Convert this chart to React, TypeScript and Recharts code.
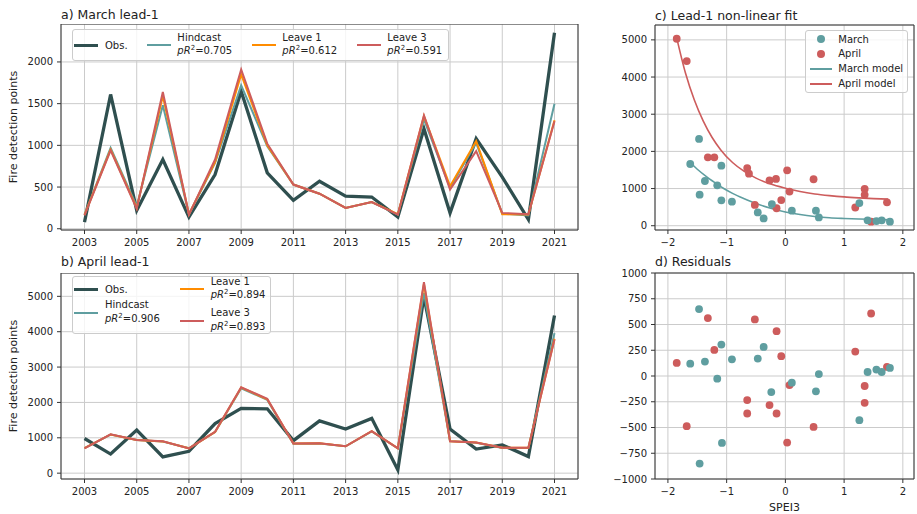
import React from "react";
import {
  LineChart, Line, ComposedChart, Scatter, XAxis, YAxis, CartesianGrid, ReferenceLine, Label,
} from "recharts";

const FONT = '"DejaVu Sans", sans-serif';
const OBS = "#2F4F4F";
const TEAL = "#5F9EA0";
const ORANGE = "#FF8C00";
const RED = "#CD5C5C";
const GRID = "#cbcbcb";
const SPINE = "#333333";
const TEXT = "#222222";

// ---- time series (panels a, b) ----
const years = [2003, 2004, 2005, 2006, 2007, 2008, 2009, 2010, 2011, 2012, 2013, 2014, 2015, 2016, 2017, 2018, 2019, 2020, 2021];
const yearTicks = [2003, 2005, 2007, 2009, 2011, 2013, 2015, 2017, 2019, 2021];

const marchObs = [80, 1610, 220, 830, 140, 650, 1650, 670, 340, 570, 390, 380, 140, 1200, 190, 1080, 620, 110, 2350];
const marchHindcast = [170, 970, 270, 1480, 170, 790, 1720, 990, 530, 420, 250, 320, 170, 1310, 490, 1030, 180, 160, 1500];
const marchLeave1 = [165, 950, 250, 1590, 175, 800, 1850, 1000, 530, 420, 250, 320, 175, 1350, 510, 1050, 175, 170, 1300];
const marchLeave3 = [160, 940, 240, 1640, 170, 830, 1910, 1020, 530, 420, 250, 320, 170, 1360, 470, 930, 190, 175, 1290];

const aprilObs = [980, 540, 1220, 460, 620, 1400, 1830, 1820, 920, 1480, 1250, 1550, 90, 5000, 1250, 680, 800, 470, 4460];
const aprilHindcast = [710, 1090, 935, 895, 705, 1160, 2400, 2070, 835, 840, 760, 1180, 705, 5100, 905, 860, 715, 715, 3960];
const aprilLeave1 = [705, 1095, 938, 898, 702, 1165, 2420, 2090, 838, 843, 760, 1185, 702, 5350, 902, 865, 718, 718, 3800];
const aprilLeave3 = [700, 1100, 940, 900, 700, 1170, 2430, 2100, 840, 845, 760, 1190, 700, 5400, 900, 870, 720, 720, 3780];

const marchTicks = [0, 500, 1000, 1500, 2000];
const aprilTicks = [0, 1000, 2000, 3000, 4000, 5000];

// ---- SPEI3 scatter (panels c, d) ----
const marchSpei = [-1.47, -1.62, -1.37, -1.46, -1.16, -1.09, -1.09, -0.91, -0.47, -0.37, -0.23, 0.11, 0.52, 0.57, 1.26, 1.40, 1.55, 1.64, 1.78];
const marchPoints = [2334, 1660, 1203, 835, 1086, 1616, 682, 646, 359, 197, 583, 404, 404, 224, 610, 144, 126, 144, 108];
const aprilSpei = [-1.85, -1.68, -1.32, -1.21, -0.65, -0.62, -0.27, -0.16, 0.03, 0.07, -0.07, -0.52, -0.15, 0.48, 1.19, 1.35, 1.35, 1.46, 1.73];
const aprilPoints = [5030, 4430, 1840, 1840, 1550, 1400, 1220, 1260, 1490, 920, 690, 560, 470, 1250, 490, 990, 830, 110, 630];

const marchModelX = [-1.62, -1.5, -1.35, -1.2, -1.05, -0.9, -0.7, -0.5, -0.25, 0, 0.25, 0.5, 0.75, 1.0, 1.25, 1.5, 1.78];
const marchModelY = [1700, 1520, 1330, 1160, 1000, 870, 725, 595, 470, 370, 300, 250, 215, 195, 180, 170, 160];
const aprilModelX = [-1.85, -1.7, -1.55, -1.4, -1.25, -1.1, -0.9, -0.7, -0.5, -0.25, 0, 0.25, 0.5, 0.75, 1.0, 1.25, 1.5, 1.75];
const aprilModelY = [5050, 4100, 3380, 2820, 2380, 2040, 1700, 1460, 1280, 1120, 1010, 920, 855, 810, 775, 750, 730, 715];

const marchResidSpei = [-1.47, -1.62, -1.37, -1.46, -1.16, -1.09, -1.08, -0.91, -0.47, -0.37, -0.24, 0.11, 0.52, 0.57, 1.26, 1.40, 1.55, 1.64, 1.78];
const marchResid = [650, 120, 140, -850, -26, 305, -650, 162, 169, 282, -156, -65, -149, 19, -429, 39, 62, 39, 78];
const aprilResidSpei = [-1.85, -1.68, -1.32, -1.21, -0.65, -0.65, -0.52, -0.27, -0.15, -0.15, -0.07, 0.07, 0.03, 0.48, 1.19, 1.35, 1.35, 1.46, 1.73];
const aprilResid = [127, -487, 562, 253, -234, -364, 549, -282, 435, -364, 192, -88, -646, -494, 237, -97, -260, 607, 88];

const speiTicks = [-2, -1, 0, 1, 2];
const fitTicks = [0, 1000, 2000, 3000, 4000, 5000];
const residTicks = [-1000, -750, -500, -250, 0, 250, 500, 750, 1000];

const marchLegend = [
  { name: "Obs.", color: OBS, thick: 3.5, score: "" },
  { name: "Hindcast", color: TEAL, thick: 2, score: "0.705" },
  { name: "Leave 1", color: ORANGE, thick: 2, score: "0.612" },
  { name: "Leave 3", color: RED, thick: 2, score: "0.591" },
];
const aprilLegend = [
  { name: "Obs.", color: OBS, thick: 3.5, score: "" },
  { name: "Hindcast", color: TEAL, thick: 2, score: "0.906" },
  { name: "Leave 1", color: ORANGE, thick: 2, score: "0.894" },
  { name: "Leave 3", color: RED, thick: 2, score: "0.893" },
];
const fitLegend = [
  { name: "March", color: TEAL, kind: "dot" },
  { name: "April", color: RED, kind: "dot" },
  { name: "March model", color: TEAL, kind: "line" },
  { name: "April model", color: RED, kind: "line" },
];

const X_DOMAIN: [number, number] = [2002.1, 2021.9];
const MARCH_Y: [number, number] = [-15, 2455];
const APRIL_Y: [number, number] = [-165, 5660];
const SPEI_X: [number, number] = [-2.22, 2.19];
const FIT_Y: [number, number] = [-115, 5400];
const RESID_Y: [number, number] = [-1000, 1000];

const toRows = (obs: number[], h: number[], l1: number[], l3: number[]) =>
  years.map((year, i) => ({ year, obs: obs[i], hindcast: h[i], leave1: l1[i], leave3: l3[i] }));
const toXY = (xs: number[], ys: number[]) => xs.map((x, i) => ({ x, y: ys[i] }));

const marchRows = toRows(marchObs, marchHindcast, marchLeave1, marchLeave3);
const aprilRows = toRows(aprilObs, aprilHindcast, aprilLeave1, aprilLeave3);

const tickStyle = { fill: TEXT, fontSize: 10, fontFamily: FONT };
const minus = (v: number) => String(v).replace("-", "\u2212");

const YLabel = (props: any) => {
  const vb = props.viewBox || {};
  const cx = (vb.x || 0) + 13.5;
  const cy = (vb.y || 0) + (vb.height || 0) / 2;
  return (
    <text x={cx} y={cy} transform={`rotate(-90 ${cx} ${cy})`} textAnchor="middle" dominantBaseline="central"
      fill={TEXT} fontSize={11} fontFamily={FONT}>
      {props.value}
    </text>
  );
};

const XLabel = (props: any) => {
  const vb = props.viewBox || {};
  return (
    <text x={(vb.x || 0) + (vb.width || 0) / 2} y={(vb.y || 0) + 28} textAnchor="middle" dominantBaseline="central"
      fill={TEXT} fontSize={11} fontFamily={FONT}>
      {props.value}
    </text>
  );
};

const Score = ({ value }: { value: string }) => (
  <div>
    <i>pR</i>
    <span style={{ fontSize: 7, position: "relative", top: -4 }}>2</span>=
    {value}
  </div>
);

const Swatch = ({ color, thick }: { color: string; thick: number }) => (
  <div style={{ width: 24, height: thick, background: color, flex: "none" }} />
);

const LegendEntry = ({ e, width }: { e: any; width?: number }) => (
  <div style={{ display: "flex", alignItems: "center", width, flex: "none" }}>
    <Swatch color={e.color} thick={e.thick} />
    <div style={{ marginLeft: 6.7 }}>
      <div>{e.name}</div>
      {e.score ? <Score value={e.score} /> : null}
    </div>
  </div>
);

const boxStyle: React.CSSProperties = {
  position: "absolute",
  border: "1px solid #cccccc",
  borderRadius: 3,
  background: "rgba(255,255,255,0.8)",
  boxSizing: "border-box",
  fontFamily: FONT,
  fontSize: 10,
  color: TEXT,
  lineHeight: "13.6px",
  whiteSpace: "nowrap",
};

const titleStyle: React.CSSProperties = {
  position: "absolute",
  fontFamily: FONT,
  fontSize: 12.5,
  lineHeight: "15px",
  color: TEXT,
  whiteSpace: "nowrap",
};

// the chart div starts at the top spine; height = plot height + x-axis band
function SeriesPanel({ rows, yDomain, yTicks }: { rows: any[]; yDomain: [number, number]; yTicks: number[] }) {
  return (
    <LineChart width={585} height={227} data={rows} margin={{ top: 0, right: 7, bottom: 0, left: 0 }}>
      <CartesianGrid stroke={GRID} strokeWidth={1} />
      <XAxis dataKey="year" type="number" domain={X_DOMAIN} ticks={yearTicks} interval={0} allowDataOverflow
        height={21} tick={tickStyle} tickSize={4} tickMargin={5}
        axisLine={{ stroke: SPINE }} tickLine={{ stroke: SPINE }} />
      <YAxis type="number" domain={yDomain} ticks={yTicks} interval={0} allowDataOverflow width={61}
        tick={tickStyle} tickSize={4} tickMargin={4}
        axisLine={{ stroke: SPINE }} tickLine={{ stroke: SPINE }}>
        <Label value="Fire detection points" content={YLabel} />
      </YAxis>
      <ReferenceLine y={yDomain[1]} stroke={SPINE} />
      <ReferenceLine x={X_DOMAIN[1]} stroke={SPINE} />
      <Line dataKey="obs" stroke={OBS} strokeWidth={3.3} dot={false} isAnimationActive={false} />
      <Line dataKey="hindcast" stroke={TEAL} strokeWidth={2} dot={false} isAnimationActive={false} />
      <Line dataKey="leave1" stroke={ORANGE} strokeWidth={2} dot={false} isAnimationActive={false} />
      <Line dataKey="leave3" stroke={RED} strokeWidth={2} dot={false} isAnimationActive={false} />
    </LineChart>
  );
}

const dotShape = (color: string) => (p: any) => <circle cx={p.cx} cy={p.cy} r={3.9} fill={color} />;

function SpeiPanel({ height, top, yDomain, yTicks, xLabel, children }: any) {
  return (
    <ComposedChart width={317} height={height} margin={{ top, right: 3, bottom: 0, left: 0 }}>
      <CartesianGrid stroke={GRID} strokeWidth={1} />
      <XAxis dataKey="x" type="number" domain={SPEI_X} ticks={speiTicks} interval={0} allowDataOverflow
        height={xLabel ? 35 : 21} tick={tickStyle} tickSize={4} tickMargin={5} tickFormatter={minus}
        axisLine={{ stroke: SPINE }} tickLine={{ stroke: SPINE }}>
        {xLabel ? <Label value={xLabel} content={XLabel} /> : null}
      </XAxis>
      <YAxis type="number" domain={yDomain} ticks={yTicks} interval={0} allowDataOverflow width={55}
        tick={tickStyle} tickSize={4} tickMargin={4} tickFormatter={minus}
        axisLine={{ stroke: SPINE }} tickLine={{ stroke: SPINE }} />
      <ReferenceLine y={yDomain[1]} stroke={SPINE} />
      <ReferenceLine x={SPEI_X[1]} stroke={SPINE} />
      {children}
    </ComposedChart>
  );
}

export default function App() {
  return (
    <div style={{ position: "absolute", left: 0, top: 0, width: 917, height: 514, background: "#fff", overflow: "hidden" }}>
      {/* a) March */}
      <div style={{ position: "absolute", left: 0, top: 24 }}>
        <SeriesPanel rows={marchRows} yDomain={MARCH_Y} yTicks={marchTicks} />
      </div>
      {/* b) April */}
      <div style={{ position: "absolute", left: 0, top: 273 }}>
        <SeriesPanel rows={aprilRows} yDomain={APRIL_Y} yTicks={aprilTicks} />
      </div>
      {/* c) fit */}
      <div style={{ position: "absolute", left: 600, top: 0 }}>
        <SpeiPanel height={251} top={25} yDomain={FIT_Y} yTicks={fitTicks}>
          <Scatter name="April" data={toXY(aprilSpei, aprilPoints)} dataKey="y" fill={RED} shape={dotShape(RED)} isAnimationActive={false} />
          <Scatter name="March" data={toXY(marchSpei, marchPoints)} dataKey="y" fill={TEAL} shape={dotShape(TEAL)} isAnimationActive={false} />
          <Line data={toXY(marchModelX, marchModelY)} dataKey="y" type="monotone" stroke={TEAL} strokeWidth={1.6} dot={false} isAnimationActive={false} />
          <Line data={toXY(aprilModelX, aprilModelY)} dataKey="y" type="monotone" stroke={RED} strokeWidth={1.6} dot={false} isAnimationActive={false} />
        </SpeiPanel>
      </div>
      {/* d) residuals */}
      <div style={{ position: "absolute", left: 600, top: 250 }}>
        <SpeiPanel height={264} top={23} yDomain={RESID_Y} yTicks={residTicks} xLabel="SPEI3">
          <Scatter data={toXY(aprilResidSpei, aprilResid)} dataKey="y" fill={RED} shape={dotShape(RED)} isAnimationActive={false} />
          <Scatter data={toXY(marchResidSpei, marchResid)} dataKey="y" fill={TEAL} shape={dotShape(TEAL)} isAnimationActive={false} />
        </SpeiPanel>
      </div>

      <div style={{ ...titleStyle, left: 61, top: 7.2 }}>a) March lead-1</div>
      <div style={{ ...titleStyle, left: 61, top: 253.5 }}>b) April lead-1</div>
      <div style={{ ...titleStyle, left: 655, top: 7.5 }}>c) Lead-1 non-linear fit</div>
      <div style={{ ...titleStyle, left: 655, top: 253.5 }}>d) Residuals</div>

      {/* legend a */}
      <div style={{ ...boxStyle, left: 71.7, top: 29.3, width: 377, height: 32, display: "flex", alignItems: "center", paddingLeft: 1.6 }}>
        {marchLegend.map((e, i) => (
          <LegendEntry key={e.name} e={e} width={i === 0 ? 72.4 : i < 3 ? 105 : undefined} />
        ))}
      </div>

      {/* legend b */}
      <div style={{ ...boxStyle, left: 71.7, top: 276, width: 199, height: 58, display: "flex", alignItems: "center", paddingLeft: 1.6 }}>
        <div style={{ display: "flex", flexDirection: "column", gap: 1.5, width: 105.7 }}>
          {aprilLegend.slice(0, 2).map((e) => <LegendEntry key={e.name} e={e} />)}
        </div>
        <div style={{ display: "flex", flexDirection: "column", gap: 2.4 }}>
          {aprilLegend.slice(2).map((e) => <LegendEntry key={e.name} e={e} />)}
        </div>
      </div>

      {/* legend c */}
      <div style={{ ...boxStyle, left: 805, top: 30, width: 103, height: 63, paddingTop: 1 }}>
        {fitLegend.map((e) => (
          <div key={e.name} style={{ display: "flex", alignItems: "center", height: 14.8, paddingLeft: 4 }}>
            <div style={{ width: 21.7, height: 8, position: "relative", flex: "none" }}>
              {e.kind === "dot" ? (
                <div style={{ position: "absolute", left: 7, top: 0, width: 8, height: 8, borderRadius: 4, background: e.color }} />
              ) : (
                <div style={{ position: "absolute", left: 0, top: 3.2, width: 21.7, height: 1.6, background: e.color }} />
              )}
            </div>
            <div style={{ marginLeft: 6.6 }}>{e.name}</div>
          </div>
        ))}
      </div>
    </div>
  );
}
